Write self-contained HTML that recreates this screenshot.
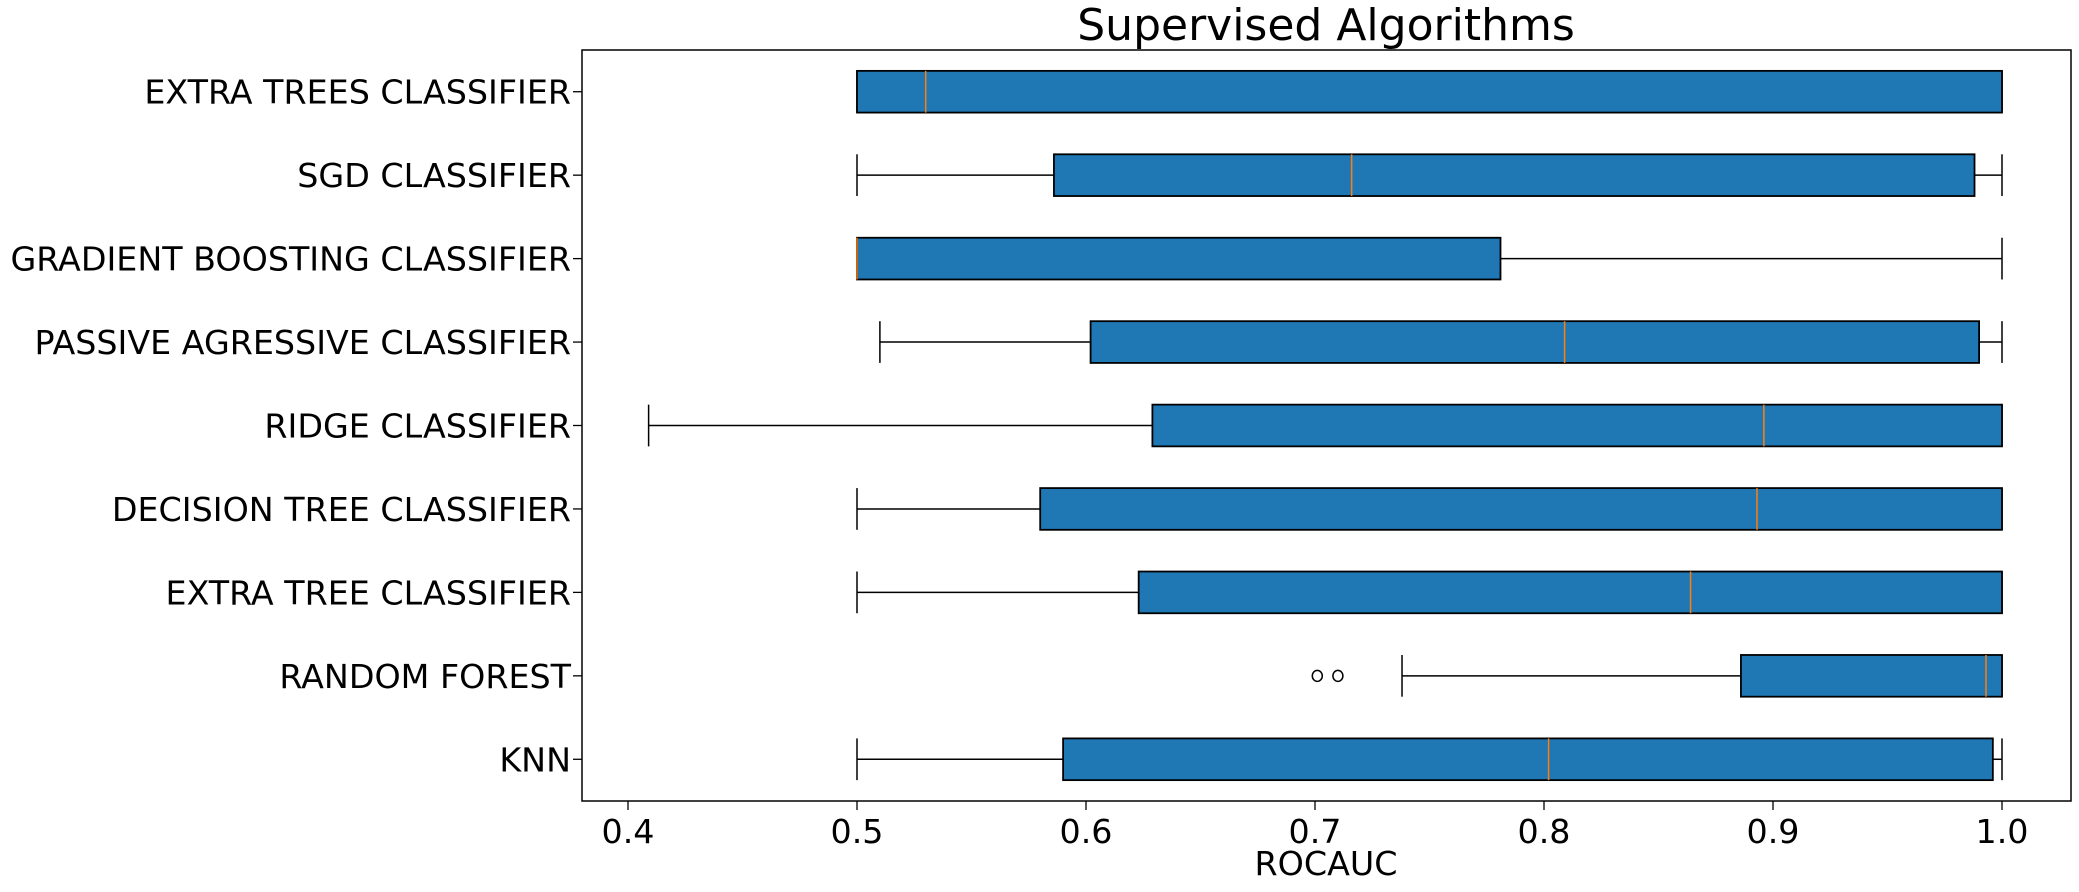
<!DOCTYPE html>
<html><head><meta charset="utf-8"><style>
html,body{margin:0;padding:0;background:#fff;}
svg{display:block;font-family:"DejaVu Sans","Liberation Sans",sans-serif;}
</style></head><body>
<svg id="chart" width="2079" height="892" viewBox="0 0 2079 892" xmlns="http://www.w3.org/2000/svg">
<text x="1326" y="40" font-size="44" text-anchor="middle">Supervised Algorithms</text>
<text x="1326" y="875" font-size="33.3" text-anchor="middle">ROCAUC</text>
<g id="plot"></g>
</svg>
<script>
const categories = ["EXTRA TREES CLASSIFIER","SGD CLASSIFIER","GRADIENT BOOSTING CLASSIFIER","PASSIVE AGRESSIVE CLASSIFIER","RIDGE CLASSIFIER","DECISION TREE CLASSIFIER","EXTRA TREE CLASSIFIER","RANDOM FOREST","KNN"];
const whiskerLow = [0.5,0.5,0.5,0.510,0.409,0.5,0.5,0.738,0.5];
const q1Values = [0.5,0.586,0.5,0.602,0.629,0.580,0.623,0.886,0.590];
const medianValues = [0.530,0.716,0.5,0.809,0.896,0.893,0.864,0.993,0.802];
const q3Values = [1.0,0.988,0.781,0.990,1.0,1.0,1.0,1.0,0.996];
const whiskerHigh = [1.0,1.0,1.0,1.0,1.0,1.0,1.0,1.0,1.0];
const outliers = [[],[],[],[],[],[],[],[0.701,0.710],[]];
const xTicks = [0.4,0.5,0.6,0.7,0.8,0.9,1.0];
const xTickLabels = ["0.4","0.5","0.6","0.7","0.8","0.9","1.0"];

const L=582,R=2071,T=50,B=801;
const xs = v => 857 + (v-0.5)*2290;
const n = categories.length;
const step = (B-T)/n;
const ys = i => T + step*(i+0.5);
const NS="http://www.w3.org/2000/svg";
const g=document.getElementById('plot');
function mk(tag,attrs){const e=document.createElementNS(NS,tag);for(const k in attrs)e.setAttribute(k,attrs[k]);g.appendChild(e);return e;}

xTicks.forEach((t,i)=>{
  const tk=mk('line',{x1:xs(t),x2:xs(t),y1:B,y2:B+9,stroke:'#000','stroke-width':1.3});
  
  
  const tl=mk('text',{x:xs(t),y:843,'font-size':33.3,'text-anchor':'middle'});
  tl.textContent=xTickLabels[i];
  
  
});

categories.forEach((c,i)=>{
  const y=ys(i), h=step*0.5;
  const tk=mk('line',{x1:L-9,x2:L,y1:y,y2:y,stroke:'#000','stroke-width':1.3});
  
  
  const tl=mk('text',{x:L-11,y:y+12,'font-size':33.3,'text-anchor':'end'});
  tl.textContent=c;
  
  
  const w1=mk('line',{x1:xs(whiskerLow[i]),x2:xs(q1Values[i]),y1:y,y2:y,stroke:'#000','stroke-width':1.5});
  
  
  const w2=mk('line',{x1:xs(q3Values[i]),x2:xs(whiskerHigh[i]),y1:y,y2:y,stroke:'#000','stroke-width':1.5});
  
  
  const c1=mk('line',{x1:xs(whiskerLow[i]),x2:xs(whiskerLow[i]),y1:y-h/2,y2:y+h/2,stroke:'#000','stroke-width':1.5});
  
  
  const c2=mk('line',{x1:xs(whiskerHigh[i]),x2:xs(whiskerHigh[i]),y1:y-h/2,y2:y+h/2,stroke:'#000','stroke-width':1.5});
  
  
  const bx=mk('rect',{x:xs(q1Values[i]),y:y-h/2,width:Math.max(0,xs(q3Values[i])-xs(q1Values[i])),height:h,fill:'#1f77b4',stroke:'#000','stroke-width':1.8});
  
  
  const md=mk('line',{x1:xs(medianValues[i]),x2:xs(medianValues[i]),y1:y-h/2,y2:y+h/2,stroke:'#ff7f0e','stroke-width':1.5});
  
  
  outliers[i].forEach(o=>{
    const p=mk('ellipse',{cx:xs(o),cy:y,rx:5,ry:5.5,fill:'none',stroke:'#000','stroke-width':1.5});
    
    
  });
});
const fr=mk('rect',{x:L,y:T,width:R-L,height:B-T,fill:'none',stroke:'#000','stroke-width':1.5});


</script>
</body></html>
